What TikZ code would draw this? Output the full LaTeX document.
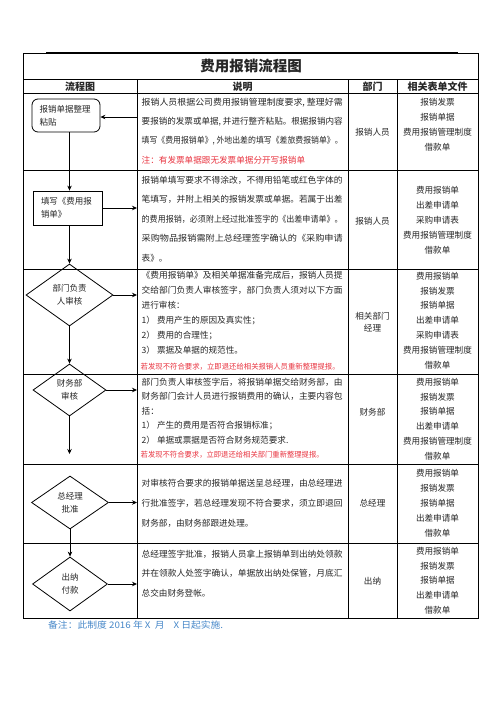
\documentclass[tikz,border=0pt]{standalone}
\usepackage{fontspec}
\setmainfont{Noto Sans CJK SC}
\usepackage{graphicx}
\usetikzlibrary{shapes.geometric,arrows.meta}
\definecolor{notered}{RGB}{232,52,64}
\definecolor{noteblue}{RGB}{70,135,200}
\newcommand\fullln[2][201pt]{\resizebox{#1}{\height}{#2}}
\begin{document}
\begin{tikzpicture}[x=1pt,y=-1pt,
  every node/.style={inner sep=0pt,text=black!85},
  tline/.style={line width=0.7pt,draw=black},
  arr/.style={line width=0.8pt,-{Stealth[length=5pt,width=4.5pt]}},
  box/.style={draw,line width=0.8pt,minimum width=68pt,minimum height=33pt,inner xsep=7.5pt,text width=53pt,align=left,font=\fontsize{8.5}{13}\selectfont},
  dia/.style={diamond,draw,line width=0.8pt,align=center,font=\fontsize{8.5}{13}\selectfont},
  desc/.style={anchor=west,align=left,font=\fontsize{8.6}{#1}\selectfont},
  rednote/.style={anchor=west,text=notered,font=\fontsize{7.5}{9}\selectfont},
  frm/.style={align=center,font=\fontsize{8.6}{#1}\selectfont},
  dept/.style={align=center,font=\fontsize{8.6}{12}\selectfont},
  head/.style={font=\fontsize{10}{12}\selectfont\bfseries}]
\useasboundingbox (0,0) rectangle (496,702);

% table
\draw[tline] (23,53) rectangle (478,618);
\draw[line width=1.6pt] (46,53) -- (458,53);
\foreach \yy in {79,93,170,269,374,464,543} \draw[tline] (23,\yy) -- (478,\yy);
\foreach \xx in {137,348,397} \draw[tline] (\xx,79) -- (\xx,618);

% title and header
\node[font=\fontsize{14.5}{16}\selectfont\bfseries] (title) at (251,66) {费用报销流程图};
\node[head] (h1) at (80,86.5) {流程图};
\node[head] (h2) at (242.5,86.5) {说明};
\node[head] (h3) at (372.5,86.5) {部门};
\node[head] (h4) at (437.5,86.5) {相关表单文件};

% flowchart
\node[box,rounded corners=6pt] (n1) at (66,115.5) {报销单据整理\\粘贴};
\node[box,minimum width=69pt,minimum height=34pt] (n2) at (67.5,208) {填写《费用报\\销单》};
\node[dia,minimum width=87pt,minimum height=62pt] (d1) at (69.5,295) {部门负责\\人审核};
\node[dia,minimum width=73pt,minimum height=52pt] (d2) at (69.5,390) {财务部\\审核};
\node[dia,minimum width=77pt,minimum height=53pt] (d3) at (70,502.5) {总经理\\批准};
\node[dia,minimum width=75pt,minimum height=54pt] (d4) at (70,584) {出纳\\付款};

\coordinate (colx) at (137,0);
\coordinate (a1) at (137,117);
\coordinate (e1) at (69.5,454);
\draw[arr] (d1.north |- n1.south) -- (d1.north |- n2.north);
\draw[arr] (d1.north |- n2.south) -- (d1.north);
\draw[arr] (d1.south) -- (d2.north);
\draw[arr] (d2.south) -- (e1);
\draw[arr] (d3.south) -- (d4.north);
\draw[arr] (a1) -- (a1 -| n1.east);
\draw[arr] (n2.east) -- (n2.east -| colx);
\draw[arr] (d1.east) -- (d1.east -| colx);
\draw[arr] (d2.east) -- (d2.east -| colx);
\draw[arr] (d3.east) -- (d3.east -| colx);
\draw[arr] (d4.east) -- (d4.east -| colx);

% descriptions
\node[desc=19.33] (desc1) at (141.5,131) {\fullln{报销人员根据公司费用报销管理制度要求, 整理好需}\\\fullln{要报销的发票或单据, 并进行整齐粘贴。根据报销内容}\\\fullln{填写《费用报销单》, 外地出差的填写《差旅费报销单》。}\\\textcolor{notered}{注：有发票单据跟无发票单据分开写报销单}};
\node[desc=19.5] (desc2) at (141.5,219) {\fullln{报销单填写要求不得涂改，不得用铅笔或红色字体的}\\\fullln{笔填写，并附上相关的报销发票或单据。若属于出差}\\\fullln{的费用报销，必须附上经过批准签字的《出差申请单》。}\\\fullln{采购物品报销需附上总经理签字确认的《采购申请}\\表》。};
\node[desc=15] (desc3) at (141.5,312.5) {\fullln{《费用报销单》及相关单据准备完成后，报销人员提}\\\fullln{交给部门负责人审核签字，部门负责人须对以下方面}\\进行审核：\\1） 费用产生的原因及真实性；\\2） 费用的合理性；\\3） 票据及单据的规范性。};
\node[rednote] (red3) at (140.5,367) {\fullln[199pt]{若发现不符合要求，立即退还给相关报销人员重新整理提报。}};
\node[desc=14.6] (desc4) at (141.5,411) {\fullln{部门负责人审核签字后，将报销单据交给财务部，由}\\\fullln{财务部门会计人员进行报销费用的确认，主要内容包}\\括：\\1） 产生的费用是否符合报销标准；\\2） 单据或票据是否符合财务规范要求.};
\node[rednote] (red4) at (140.5,455) {\fullln[183pt]{若发现不符合要求，立即退还给相关部门重新整理提报。}};
\node[desc=20] (desc5) at (141.5,503) {\fullln{对审核符合要求的报销单据送呈总经理，由总经理进}\\\fullln{行批准签字，若总经理发现不符合要求，须立即退回}\\财务部，由财务部跟进处理。};
\node[desc=19.5] (desc6) at (141.5,573.5) {\fullln{总经理签字批准，报销人员拿上报销单到出纳处领款}\\\fullln{并在领款人处签字确认，单据放出纳处保管，月底汇}\\总交由财务登帐。};

% departments
\node[dept] (dep1) at (372.5,132) {报销人员};
\node[dept] (dep2) at (372.5,221) {报销人员};
\node[dept] (dep3) at (372.5,322) {相关部门\\经理};
\node[dept] (dep4) at (372.5,412) {财务部};
\node[dept] (dep5) at (372.5,503) {总经理};
\node[dept] (dep6) at (372.5,581) {出纳};

% forms
\node[frm=15] (frm1) at (437.5,124.5) {报销发票\\报销单据\\费用报销管理制度\\借款单};
\node[frm=15] (frm2) at (437.5,220) {费用报销单\\出差申请单\\采购申请表\\费用报销管理制度\\借款单};
\node[frm=14.83] (frm3) at (437.5,320.5) {费用报销单\\报销发票\\报销单据\\出差申请单\\采购申请表\\费用报销管理制度\\借款单};
\node[frm=14.8] (frm4) at (437.5,419) {费用报销单\\报销发票\\报销单据\\出差申请单\\费用报销管理制度\\借款单};
\node[frm=15] (frm5) at (437.5,503) {费用报销单\\报销发票\\报销单据\\出差申请单\\借款单};
\node[frm=14.75] (frm6) at (437.5,580.5) {费用报销单\\报销发票\\报销单据\\出差申请单\\借款单};

% footnote
\node[anchor=west,text=noteblue,font=\fontsize{9}{11}\selectfont] (note) at (48,625) {\resizebox{175pt}{\height}{备注：此制度 2016 年 X\ \ 月\ \ \ \ X 日起实施.}};
\end{tikzpicture}
\end{document}
